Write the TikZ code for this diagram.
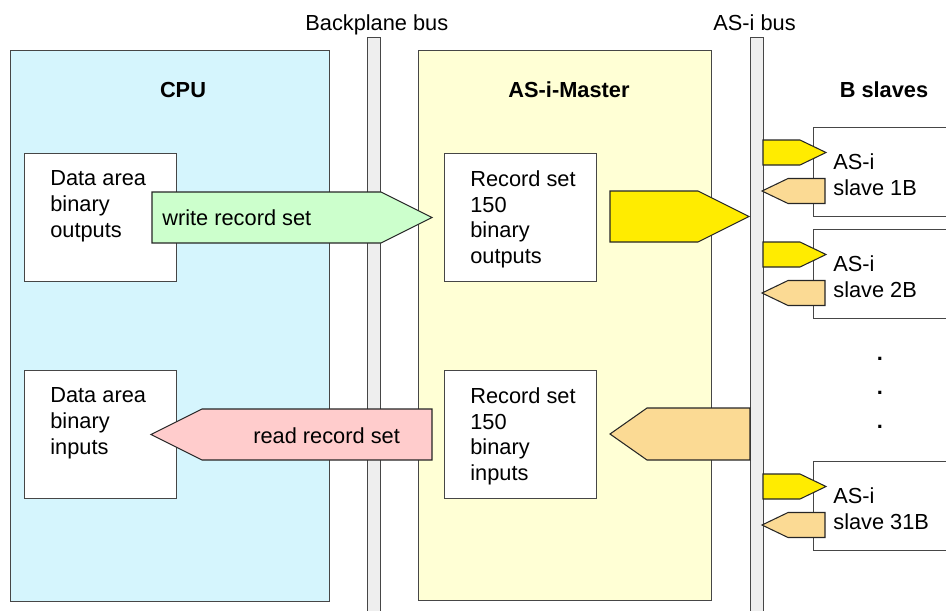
\documentclass[tikz,border=0pt]{standalone}
\usepackage{fontspec}
\setmainfont{Liberation Sans}
\usepackage{xcolor}
\usepackage{tikz}
\usetikzlibrary{positioning}
\usetikzlibrary{calc}

\definecolor{cpucyan}{RGB}{213,245,253}
\definecolor{mastercream}{RGB}{255,255,213}
\definecolor{busgrey}{RGB}{238,238,238}
\definecolor{writegreen}{RGB}{204,255,204}
\definecolor{readpink}{RGB}{255,204,204}
\definecolor{rdorange}{RGB}{251,218,148}
\definecolor{wryellow}{RGB}{255,236,0}
\definecolor{edgegrey}{RGB}{70,70,70}

\begin{document}
\begin{tikzpicture}[
        x=0.02cm, y=-0.02cm,
        every node/.style={font=\fontsize{12.4}{14.75}\selectfont},
        panel/.style={rectangle, draw=edgegrey, line width=0.7pt, anchor=north west, inner sep=0pt},
        bus/.style={rectangle, draw=edgegrey, fill=busgrey, line width=0.7pt, anchor=north west, inner sep=0pt, minimum width=0.26cm, minimum height=11.6cm},
        area/.style={rectangle, draw=edgegrey, fill=white, line width=0.6pt, anchor=north west, inner sep=0pt, minimum width=3.04cm, minimum height=2.56cm},
        slavebox/.style={area, minimum width=2.94cm, minimum height=1.78cm},
        txt/.style={anchor=north west, inner sep=0pt, align=left},
        title/.style={anchor=base, inner sep=0pt, font=\fontsize{12.4}{14.75}\selectfont\bfseries},
        blockarrow/.style={draw=black!85, line width=0.6pt, line join=miter}
    ]
    \useasboundingbox (0,0) rectangle (946,610);

    % panels and buses
    \node[panel, fill=cpucyan, minimum width=6.38cm, minimum height=11.02cm] (cpu) at (10,50) {};
    \node[panel, fill=mastercream, minimum width=5.86cm, minimum height=11.0cm] (master) at (418,50) {};
    \node[bus] (backplane) at (367,37) {};
    \node[bus] (asibus) at (750,37) {};

    \node[anchor=base west, inner sep=0pt] (backplane_lbl) at (305,30) {Backplane bus};
    \node[anchor=base west, inner sep=0pt] (asibus_lbl) at (713,30) {AS-i bus};

    \node[title] (cpu_lbl) at (183,97) {CPU};
    \node[title] (master_lbl) at (569,97) {AS-i-Master};
    \node[title] (slaves_lbl) at (884,97) {B slaves};

    % data areas and record sets
    \node[area] (dout) at (24,153) {};
    \node[txt] (dout_txt) at ([xshift=0.52cm, yshift=-0.34cm]dout.north west) {Data area\\binary\\outputs};
    \node[area] (din) at (24,370) {};
    \node[txt] (din_txt) at ([xshift=0.52cm, yshift=-0.34cm]din.north west) {Data area\\binary\\inputs};
    \node[area] (rout) at (444,153) {};
    \node[txt] (rout_txt) at ([xshift=0.52cm, yshift=-0.34cm]rout.north west) {Record set\\150\\binary\\outputs};
    \node[area] (rin) at (444,370) {};
    \node[txt] (rin_txt) at ([xshift=0.52cm, yshift=-0.34cm]rin.north west) {Record set\\150\\binary\\inputs};

    % slaves on the AS-i bus
    \foreach \t/\n in {127/1B, 229/2B, 461/31B} {
        \node[slavebox] (slave\n) at (813,\t) {};
        \node[txt] (slave\n_txt) at ([xshift=0.4cm, yshift=-0.52cm]slave\n.north west) {AS-i\\slave \n};
        \filldraw[blockarrow, fill=wryellow] (763,\t+13) -- (800,\t+13) -- (826,\t+25.5) -- (800,\t+38) -- (763,\t+38) -- cycle;
        \filldraw[blockarrow, fill=rdorange] (825,\t+51.5) -- (788,\t+51.5) -- (762,\t+64) -- (788,\t+76.5) -- (825,\t+76.5) -- cycle;
    }
    \node[title, anchor=base] (dot1) at (880,360) {.};
    \node[title, anchor=base] (dot2) at (880,394) {.};
    \node[title, anchor=base] (dot3) at (880,428) {.};

    % record set transfers
    \filldraw[blockarrow, fill=writegreen] (152,192) -- (381,192) -- (432,217.5) -- (381,243) -- (152,243) -- cycle;
    \node[anchor=base west, inner sep=0pt] (write_lbl) at (162,225) {write record set};
    \filldraw[blockarrow, fill=readpink] (432,409) -- (202,409) -- (151,434.5) -- (202,460) -- (432,460) -- cycle;
    \node[anchor=base west, inner sep=0pt] (read_lbl) at (253,443) {read record set};

    \filldraw[blockarrow, fill=wryellow] (610,191) -- (698,191) -- (749,216.5) -- (698,242) -- (610,242) -- cycle;
    \filldraw[blockarrow, fill=rdorange] (750,408) -- (647,408) -- (610,434) -- (647,460) -- (750,460) -- cycle;
    \end{tikzpicture}
\end{document}
